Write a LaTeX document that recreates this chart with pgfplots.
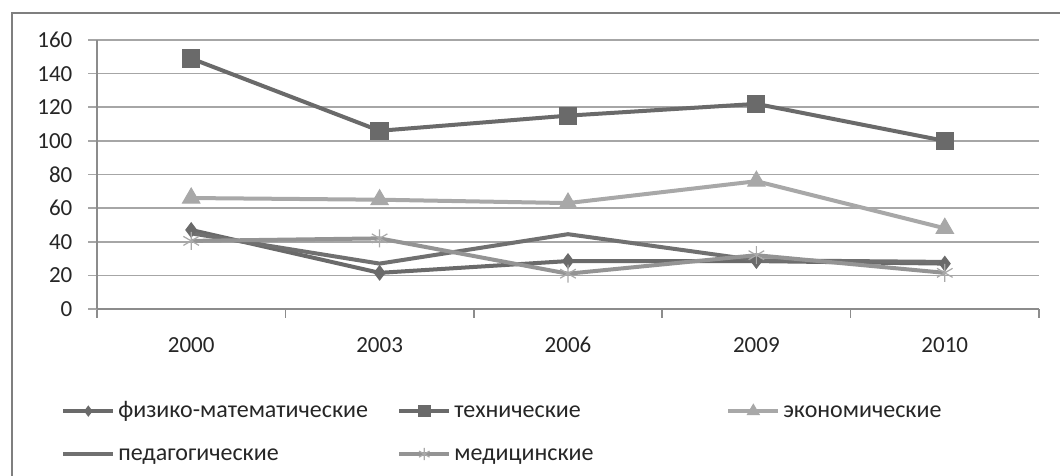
\documentclass[border=0pt]{standalone}
\usepackage{pgfplots}
\pgfplotsset{compat=1.18}
\usepackage{fontspec}
\setmainfont{Carlito}
\definecolor{cdark}{HTML}{6A6A6A}
\definecolor{cped}{HTML}{707070}
\definecolor{cecon}{HTML}{A8A8A8}
\definecolor{cmed}{HTML}{949494}
\definecolor{cgrid}{HTML}{A6A6A6}
\definecolor{caxis}{HTML}{8C8C8C}
\definecolor{cframe}{HTML}{7F7F7F}
\begin{document}
\begin{tikzpicture}
\useasboundingbox (0,0) rectangle (530pt,238pt);
\fill[white] (0,0) rectangle (530pt,238pt);
\draw[cframe, line width=1pt] (6pt,-5pt) -- (6pt,231.5pt) -- (540pt,231.5pt);
\begin{axis}[
  at={(48.5pt,83.5pt)}, anchor=south west,
  scale only axis, width=471pt, height=134.5pt,
  xmin=-0.5, xmax=4.5, ymin=0, ymax=160,
  axis x line*=bottom, axis y line*=left,
  axis line style={caxis, line width=0.8pt},
  xtick={0,1,2,3,4},
  xticklabels={2000,2003,2006,2009,2010},
  minor xtick={-0.5,0.5,1.5,2.5,3.5,4.5},
  major x tick style={draw=none},
  minor x tick style={caxis, line width=0.8pt},
  minor tick length=4.5pt,
  ytick={0,20,...,160},
  major tick length=4.5pt,
  tick align=outside,
  y tick style={cgrid, line width=0.8pt},
  ymajorgrids, grid style={cgrid, line width=0.8pt},
  tick label style={font=\fontsize{11.5}{13}\selectfont, text=black!85},
  /pgf/number format/assume math mode=true,
  yticklabel style={xshift=-3.5pt},
  xticklabel style={yshift=-6pt, text height=7pt, text depth=0pt},
  clip=false,
  line width=2pt,
  legend columns=3,
  legend cell align=left,
  legend style={draw=none, fill=none, at={(axis description cs:-0.040,-0.322)}, anchor=north west,
    inner sep=0pt, font=\fontsize{12}{14}\selectfont, text=black!85,
    nodes={inner sep=1.5pt, text height=8.5pt, text depth=2pt}, row sep=8pt, column sep=0pt},
  legend image code/.code={\draw[mark repeat=2,mark phase=2, every mark/.append style={scale=0.68}] plot coordinates {(0pt,0pt) (12.5pt,0pt) (25pt,0pt)};},
]
\addplot[color=cdark, mark=diamond*, mark size=3.6pt, mark options={solid, fill=cdark, line width=0.5pt}]
  coordinates {(0,47) (1,21.5) (2,28.5) (3,28.5) (4,27)};
\addlegendentry{\makebox[138pt][l]{физико-математические}}
\addplot[color=cdark, mark=square*, mark size=4.3pt, mark options={solid, fill=cdark, line width=0.5pt}]
  coordinates {(0,149) (1,106) (2,115) (3,122) (4,100)};
\addlegendentry{\makebox[134.5pt][l]{технические}}
\addplot[color=cecon, mark=triangle*, mark size=5pt, mark options={solid, fill=cecon, line width=0.5pt}]
  coordinates {(0,66) (1,65) (2,63) (3,76) (4,48)};
\addlegendentry{экономические}
\addplot[color=cped, no marks]
  coordinates {(0,45) (1,27) (2,44.5) (3,29) (4,28)};
\addlegendentry{педагогические}
\addplot[color=cmed, mark=asterisk, mark size=4.5pt, mark options={solid, line width=0.6pt, color=cmed!80}]
  coordinates {(0,40.5) (1,42) (2,21) (3,32) (4,21.5)};
\addlegendentry{медицинские}
\end{axis}
\end{tikzpicture}
\end{document}
